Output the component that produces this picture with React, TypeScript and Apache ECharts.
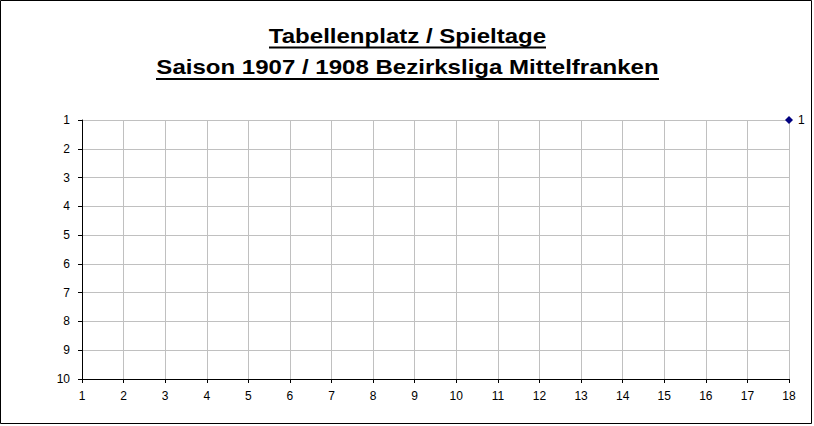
import React, { useEffect, useRef } from "react";
import * as echarts from "echarts";

const titleLines = ["Tabellenplatz / Spieltage", "Saison 1907 / 1908 Bezirksliga Mittelfranken"];
const spieltage = [18];
const platz = [1];
const xMin = 1, xMax = 18;
const yMin = 1, yMax = 10;

const W = 814, H = 426;
const FONT = '"Liberation Sans", Arial, sans-serif';

function measure(text: string, font: string): number {
  const c = document.createElement("canvas");
  const ctx = c.getContext("2d")!;
  ctx.font = font;
  return ctx.measureText(text).width;
}

export default function App() {
  const ref = useRef<HTMLDivElement>(null);
  useEffect(() => {
    document.body.style.margin = "0";
    const chart = echarts.init(ref.current!, null, { renderer: "svg" });
    const cx = 407.5;
    const titleSize = 21;
    const sx = 1.145;
    const ys = [36, 67];
    const ulY = [47.5, 79];
    const graphics: any[] = [
      { type: "rect", shape: { x: 0.5, y: 0.5, width: 811, height: 423 }, style: { fill: "none", stroke: "#000", lineWidth: 1 }, silent: true },
    ];
    titleLines.forEach((t, i) => {
      const w = measure(t, `bold ${titleSize}px ${FONT}`) * sx;
      graphics.push({
        type: "text", x: cx, y: ys[i], scaleX: sx,
        style: { text: t, fontFamily: FONT, fontWeight: "bold", fontSize: titleSize, fill: "#000", align: "center", verticalAlign: "middle" },
      });
      graphics.push({
        type: "rect", shape: { x: Math.round(cx - w / 2), y: ulY[i] - 1, width: Math.round(w), height: 2 },
        style: { fill: "#000" },
      });
    });
    chart.setOption({
      animation: false,
      backgroundColor: "#fff",
      grid: { left: 82, top: 120, right: W - 789, bottom: H - 379, containLabel: false },
      xAxis: {
        type: "value", min: xMin, max: xMax, interval: 1,
        axisLine: { show: true, onZero: false, lineStyle: { color: "#000", width: 1 } },
        axisTick: { show: true, inside: false, length: 4, lineStyle: { color: "#000" } },
        axisLabel: { color: "#000", fontFamily: FONT, fontSize: 12, margin: 11 },
        splitLine: { show: true, lineStyle: { color: "#c0c0c0", width: 1 } },
      },
      yAxis: {
        type: "value", min: yMin, max: yMax, interval: 1, inverse: true,
        axisLine: { show: true, onZero: false, lineStyle: { color: "#000", width: 1 } },
        axisTick: { show: true, inside: false, length: 4, lineStyle: { color: "#000" } },
        axisLabel: { color: "#000", fontFamily: FONT, fontSize: 12, margin: 12 },
        splitLine: { show: true, lineStyle: { color: "#c0c0c0", width: 1 } },
      },
      series: [
        {
          type: "line",
          data: spieltage.map((x, i) => [x, platz[i]]),
          symbol: "diamond", symbolSize: 8,
          itemStyle: { color: "#000080" },
          lineStyle: { color: "#000080", width: 1 },
          label: { show: true, position: "right", distance: 5, color: "#000", fontFamily: FONT, fontSize: 12, formatter: (p: any) => String(p.value[1]) },
          clip: false,
        },
      ],
      graphic: graphics,
    });
    return () => chart.dispose();
  }, []);
  return <div ref={ref} style={{ width: W, height: H, position: "absolute", left: 0, top: 0 }} />;
}
